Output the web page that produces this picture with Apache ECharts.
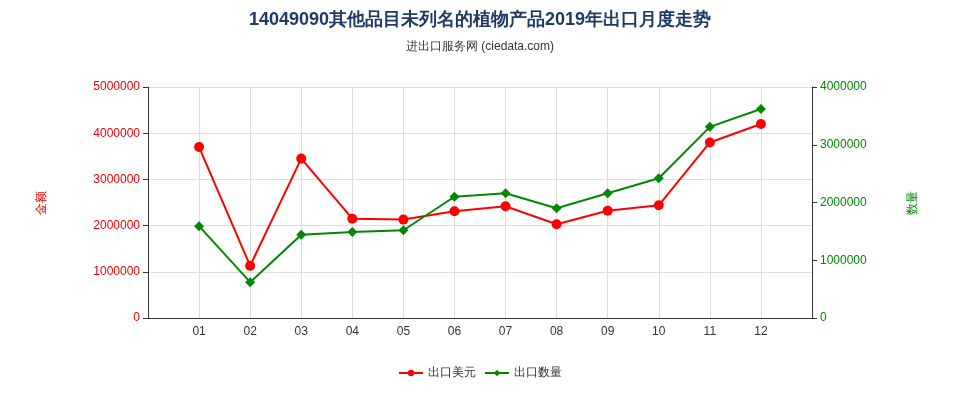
<!DOCTYPE html><html><head><meta charset="utf-8"><script src="https://cdn.jsdelivr.net/npm/echarts@6/dist/echarts.min.js"></script></head><body style="margin:0"><div id="c" style="width:960px;height:400px"></div><script>
const categories=['','01','02','03','04','05','06','07','08','09','10','11','12',''];
const exportValue=[null,3700000,1130000,3450000,2150000,2130000,2310000,2420000,2030000,2320000,2440000,3800000,4200000,null];
const exportQty=[null,1590000,620000,1440000,1490000,1520000,2100000,2160000,1900000,2160000,2420000,3310000,3620000,null];
const fmt=v=>String(v);
echarts.init(document.getElementById('c')).setOption({
title:{text:'14049090其他品目未列名的植物产品2019年出口月度走势',subtext:'进出口服务网 (ciedata.com)',left:'center',top:6,textStyle:{fontSize:18,fontWeight:'bold',color:'#1f3a64'},subtextStyle:{fontSize:12,color:'#333'},itemGap:12},
legend:{bottom:16,itemWidth:24,itemHeight:8,data:['出口美元','出口数量'],textStyle:{fontSize:12,color:'#333'}},
grid:{left:148,right:148,top:87,bottom:82},
xAxis:{type:'category',data:categories,boundaryGap:false,axisTick:{show:false},splitLine:{show:true,lineStyle:{color:'#ddd'}},axisLine:{lineStyle:{color:'#333'}},axisLabel:{color:'#333'}},
yAxis:[{type:'value',min:0,max:5000000,interval:1000000,name:'金额',nameLocation:'middle',nameGap:100,nameTextStyle:{color:'#e00'},axisLabel:{color:'#e00',formatter:fmt},axisTick:{show:true},axisLine:{show:true,lineStyle:{color:'#333'}},splitLine:{lineStyle:{color:'#ddd'}}},
{type:'value',min:0,max:4000000,interval:1000000,name:'数量',nameLocation:'middle',nameGap:95,nameTextStyle:{color:'#080'},axisLabel:{color:'#080',formatter:fmt},axisTick:{show:true},axisLine:{show:true,lineStyle:{color:'#333'}},splitLine:{show:false}}],
series:[{name:'出口美元',type:'line',data:exportValue,color:'#f00',symbol:'circle',symbolSize:10,lineStyle:{width:2}},
{name:'出口数量',type:'line',yAxisIndex:1,data:exportQty,color:'#080',symbol:'diamond',symbolSize:10,lineStyle:{width:2}}]});
</script></body></html>
